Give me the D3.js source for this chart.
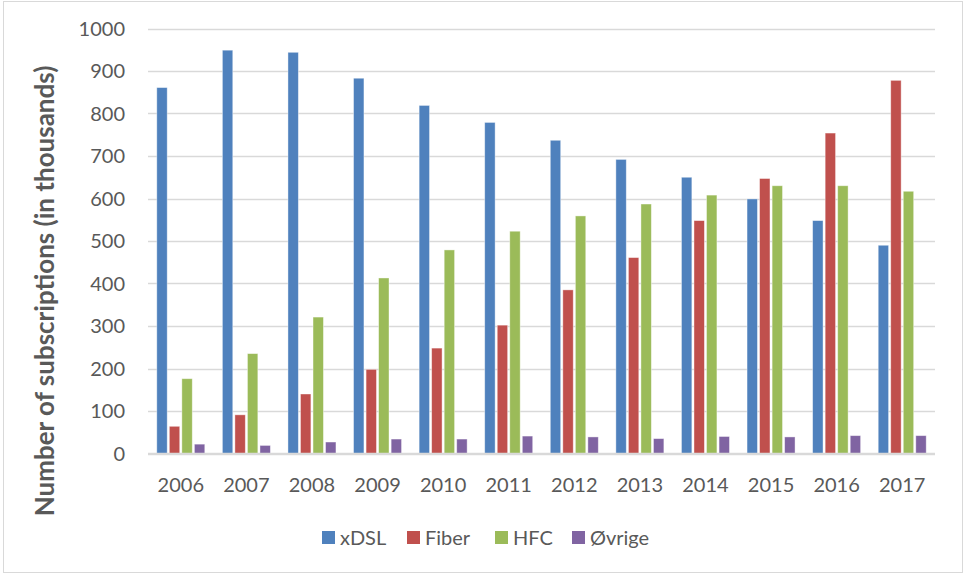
<!DOCTYPE html>
<html>
<head>
<meta charset="utf-8">
<script src="https://cdn.jsdelivr.net/npm/d3@7"></script>
<style>
  body { margin: 0; background: #fff; }
  svg text { font-family: Lato, "Open Sans", sans-serif; fill: #595959; }
</style>
</head>
<body>
<svg id="chart" width="965" height="575"></svg>
<script>
// data
var years = ["2006", "2007", "2008", "2009", "2010", "2011", "2012", "2013", "2014", "2015", "2016", "2017"];
var seriesNames = ["xDSL", "Fiber", "HFC", "Øvrige"];
var xdsl = [861, 949, 944, 883, 819, 779, 737, 692, 650, 599, 548, 490];
var fiber = [64, 91, 140, 198, 248, 302, 385, 461, 548, 647, 754, 878];
var hfc = [176, 235, 321, 413, 479, 523, 559, 587, 608, 630, 630, 617];
var ovrige = [22, 19, 27, 34, 34, 41, 39, 35, 40, 39, 42, 42];
var yTicks = [0, 100, 200, 300, 400, 500, 600, 700, 800, 900, 1000];
var colors = ["#4F81BD", "#C0504D", "#9BBB59", "#8064A2"];

var seriesValues = [xdsl, fiber, hfc, ovrige];

var svg = d3.select("#chart");

// outer chart border
svg.append("rect")
    .attr("x", 3.5).attr("y", 1.5)
    .attr("width", 959).attr("height", 571)
    .attr("fill", "none")
    .attr("stroke", "#D9D9D9");

var plotLeft = 148, plotRight = 935, plotTop = 28.5, plotBottom = 453.5;

var x = d3.scaleBand().domain(years).range([plotLeft, plotRight]).paddingInner(0).paddingOuter(0);
var inner = d3.scaleBand().domain(seriesNames).range([0, 48]).paddingInner(0.17);
var y = d3.scaleLinear().domain([0, 1000]).range([plotBottom, plotTop]);

// gridlines
svg.append("g").selectAll("line")
    .data(yTicks)
    .enter().append("line")
    .attr("x1", plotLeft).attr("x2", plotRight)
    .attr("y1", function (d) { return Math.round(y(d)) + 0.5; })
    .attr("y2", function (d) { return Math.round(y(d)) + 0.5; })
    .attr("stroke", "#D9D9D9")
    .attr("stroke-width", 1.3);

// y tick labels
svg.append("g").selectAll("text")
    .data(yTicks)
    .enter().append("text")
    .attr("x", 125)
    .attr("y", function (d) { return y(d); })
    .attr("dy", "0.35em")
    .attr("text-anchor", "end")
    .style("font-size", "20px")
    .text(function (d) { return d; });

// bars
var groups = svg.append("g").selectAll("g")
    .data(seriesNames)
    .enter().append("g")
    .attr("fill", function (d, i) { return colors[i]; });

groups.selectAll("rect")
    .data(function (d, i) {
        return years.map(function (yr, j) { return { year: yr, series: d, value: seriesValues[i][j] }; });
    })
    .enter().append("rect")
    .attr("x", function (d) { return x(d.year) + (x.bandwidth() - 48) / 2 + inner(d.series); })
    .attr("y", function (d) { return y(d.value); })
    .attr("width", inner.bandwidth())
    .attr("height", function (d) { return plotBottom - y(d.value); })
    .attr("stroke", "#ffffff")
    .attr("stroke-opacity", 0.5)
    .attr("stroke-width", 0.8);

// baseline
svg.append("line")
    .attr("x1", plotLeft).attr("x2", plotRight)
    .attr("y1", plotBottom).attr("y2", plotBottom)
    .attr("stroke", "#D9D9D9").attr("stroke-width", 1.5);

// x labels
svg.append("g").selectAll("text")
    .data(years)
    .enter().append("text")
    .attr("x", function (d) { return x(d) + x.bandwidth() / 2; })
    .attr("y", 492)
    .attr("text-anchor", "middle")
    .style("font-size", "20px")
    .text(function (d) { return d; });

// y axis title
svg.append("text")
    .attr("transform", "translate(54,291) rotate(-90)")
    .attr("text-anchor", "middle")
    .style("font-size", "26px")
    .style("font-weight", "bold")
    .text("Number of subscriptions (in thousands)");

// legend
var legendX = [322, 407, 495, 572];
var legend = svg.append("g").selectAll("g")
    .data(seriesNames)
    .enter().append("g")
    .attr("transform", function (d, i) { return "translate(" + legendX[i] + ",531)"; });

legend.append("rect")
    .attr("width", 13).attr("height", 13)
    .attr("fill", function (d, i) { return colors[i]; });

legend.append("text")
    .attr("x", 18)
    .attr("y", 7)
    .attr("dy", "0.35em")
    .style("font-size", "20px")
    .text(function (d) { return d; });
</script>
</body>
</html>
